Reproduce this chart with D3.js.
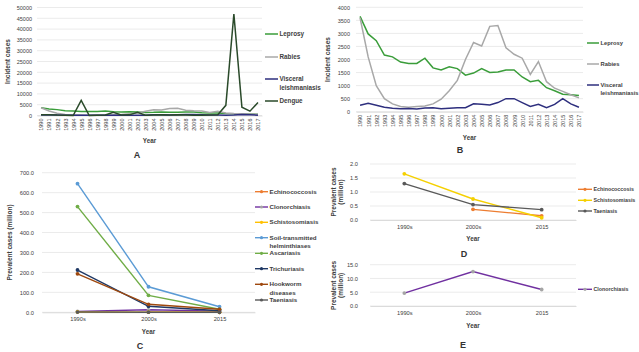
<!DOCTYPE html>
<html>
<head>
<meta charset="utf-8">
<script src="https://cdn.jsdelivr.net/npm/d3@7"></script>
<style>
  body { margin: 0; background: #fff; }
  svg { display: block; font-family: "Liberation Sans", Arial, sans-serif; }
  .tick text { fill: #404040; }
</style>
</head>
<body>
<svg id="chart" width="639" height="352"></svg>
<script>
// Data
const years = d3.range(1990, 2018).map(String);
const leprosy = [3650, 2980, 2720, 2170, 2100, 1900, 1850, 1850, 2050, 1680, 1600, 1720, 1650, 1400, 1480, 1650, 1500, 1520, 1600, 1600, 1330, 1150, 1200, 920, 800, 670, 650, 620];
const rabies = [3600, 2100, 1000, 500, 300, 200, 170, 200, 220, 300, 480, 800, 1200, 2000, 2650, 2520, 3270, 3300, 2450, 2200, 2050, 1430, 1920, 1150, 900, 780, 650, 530];
const visceral = [250, 320, 250, 170, 130, 110, 120, 100, 140, 150, 110, 130, 150, 150, 300, 290, 260, 350, 500, 500, 350, 200, 280, 150, 280, 500, 300, 170];
const dengue = [300, 400, 200, 100, 0, 7000, 0, 100, 200, 1500, 200, 300, 1500, 100, 200, 300, 200, 300, 200, 100, 100, 200, 300, 4700, 47000, 3800, 2000, 6000];

const periods = ["1990s", "2000s", "2015"];
const echinococcosis = [null, 0.38, 0.15];
const clonorchiasis = [4.7, 12.5, 6.0];
const schistosomiasis = [1.65, 0.75, 0.08];
const soilHelminth = [645, 128, 28];
const ascariasis = [530, 85, 15];
const trichuriasis = [212, 30, 8];
const hookworm = [193, 40, 15];
const taeniasis = [1.3, 0.55, 0.37];

const svg = d3.select("#chart");
const axisColor = "#404040";

// one panel: gridlines, axes, lines, legend
function panel(cfg) {
  const g = svg.append("g");
  const x = d3.scalePoint(cfg.cats, cfg.xRange).padding(0.5);
  const y = d3.scaleLinear(cfg.yDomain, cfg.yRange);

  // gridlines
  g.append("g").selectAll("line")
    .data(cfg.yTicks)
    .join("line")
    .attr("x1", cfg.xRange[0]).attr("x2", cfg.xRange[1])
    .attr("y1", d => y(d)).attr("y2", d => y(d))
    .attr("stroke", "#e3e3e3").attr("stroke-width", 0.7);

  // y axis labels
  g.append("g")
    .attr("transform", `translate(${cfg.xRange[0]},0)`)
    .call(d3.axisLeft(y).tickValues(cfg.yTicks).tickFormat(cfg.yFormat).tickSize(0).tickPadding(cfg.yPad))
    .call(a => a.select(".domain").remove())
    .call(a => a.selectAll("text").attr("font-size", cfg.fs));

  // x axis
  const xa = g.append("g")
    .attr("transform", `translate(0,${cfg.yRange[0]})`)
    .call(d3.axisBottom(x).tickSize(0).tickPadding(cfg.rotate ? 3 : 5))
    .call(a => a.select(".domain").attr("stroke", "#d0d0d0").attr("stroke-width", 0.7))
    .call(a => a.selectAll("text").attr("font-size", cfg.fs));
  if (cfg.rotate) {
    xa.selectAll("text")
      .attr("transform", "rotate(-90)")
      .attr("text-anchor", "end")
      .attr("dx", 0).attr("dy", "0.35em")
      .attr("x", -3).attr("y", 0);
  }

  // axis titles
  const xMid = (cfg.xRange[0] + cfg.xRange[1]) / 2;
  g.append("text")
    .attr("x", xMid).attr("y", cfg.yearY)
    .attr("text-anchor", "middle").attr("font-size", 6.3).attr("font-weight", "bold")
    .attr("fill", axisColor).text("Year");
  const yMid = (cfg.yRange[0] + cfg.yRange[1]) / 2;
  cfg.yTitle.forEach((t, i) => {
    g.append("text")
      .attr("transform", `translate(${cfg.yTitleX + i * 7},${yMid}) rotate(-90)`)
      .attr("text-anchor", "middle").attr("font-size", 6.5).attr("font-weight", "bold")
      .attr("fill", axisColor).text(t);
  });

  // lines
  const line = d3.line()
    .defined(d => d.v != null)
    .x(d => x(d.c)).y(d => y(d.v));
  cfg.series.forEach(s => {
    const pts = cfg.cats.map((c, i) => ({c, v: s.values[i]}));
    g.append("path")
      .datum(pts)
      .attr("fill", "none")
      .attr("stroke", s.color)
      .attr("stroke-width", cfg.lw)
      .attr("d", line);
    if (cfg.markers) {
      g.append("g").selectAll("circle")
        .data(pts.filter(d => d.v != null))
        .join("circle")
        .attr("cx", d => x(d.c)).attr("cy", d => y(d.v))
        .attr("r", 1.9)
        .attr("fill", s.marker || s.color);
    }
  });

  // legend
  cfg.series.forEach((s, i) => {
    const ly = cfg.legendY[i];
    g.append("line")
      .attr("x1", cfg.legendX).attr("x2", cfg.legendX + cfg.legendLen)
      .attr("y1", ly).attr("y2", ly)
      .attr("stroke", s.color).attr("stroke-width", cfg.lw);
    if (cfg.markers) {
      g.append("circle")
        .attr("cx", cfg.legendX + cfg.legendLen / 2).attr("cy", ly).attr("r", 1.6)
        .attr("fill", s.marker || s.color);
    }
    s.label.forEach((t, j) => {
      g.append("text")
        .attr("x", cfg.legendX + cfg.legendLen + 1.5).attr("y", ly + j * 8.3)
        .attr("dy", "0.35em").attr("font-size", cfg.lfs).attr("font-weight", "bold")
        .attr("fill", axisColor).text(t);
    });
  });

  // panel letter
  svg.append("text")
    .attr("x", cfg.letter[0]).attr("y", cfg.letter[1])
    .attr("text-anchor", "middle").attr("font-size", 9).attr("font-weight", "bold")
    .attr("fill", "#333").text(cfg.letter[2]);
}

const fmt0 = d3.format("d");
const fmt1 = d3.format(".1f");

panel({
  cats: years, xRange: [37, 262], yDomain: [0, 50000], yRange: [115.5, 7.5],
  yTicks: d3.range(0, 50001, 5000), yFormat: fmt0, yPad: 5, fs: 5.5, rotate: true,
  yearY: 143, yTitle: ["Incident cases"], yTitleX: 10, lw: 1.5, markers: false,
  series: [
    {label: ["Leprosy"], values: leprosy, color: "#3a9d3a"},
    {label: ["Rabies"], values: rabies, color: "#a8a8a8"},
    {label: ["Visceral", "leishmaniasis"], values: visceral, color: "#2e2f7e"},
    {label: ["Dengue"], values: dengue, color: "#2a4a2a"}
  ],
  legendX: 265, legendLen: 13, legendY: [34, 57, 79, 101], lfs: 6.3,
  letter: [137, 158, "A"]
});

panel({
  cats: years, xRange: [356, 583], yDomain: [0, 4000], yRange: [111.7, 7.3],
  yTicks: d3.range(0, 4001, 500), yFormat: fmt0, yPad: 6, fs: 5.5, rotate: true,
  yearY: 140, yTitle: ["Incident cases"], yTitleX: 330, lw: 1.5, markers: false,
  series: [
    {label: ["Leprosy"], values: leprosy, color: "#3a9d3a"},
    {label: ["Rabies"], values: rabies, color: "#a8a8a8"},
    {label: ["Visceral", "leishmaniasis"], values: visceral, color: "#2e2f7e"}
  ],
  legendX: 587, legendLen: 12, legendY: [43, 64, 85], lfs: 5.8,
  letter: [460, 153, "B"]
});

panel({
  cats: periods, xRange: [42, 255], yDomain: [0, 700], yRange: [312.3, 172.7],
  yTicks: d3.range(0, 701, 100), yFormat: fmt1, yPad: 8, fs: 5.7, rotate: false,
  yearY: 334, yTitle: ["Prevalent cases (million)"], yTitleX: 12, lw: 1.4, markers: true,
  series: [
    {label: ["Echinococcosis"], values: echinococcosis, color: "#ed7d31"},
    {label: ["Clonorchiasis"], values: clonorchiasis, color: "#7030a0", marker: "#a5a5a5"},
    {label: ["Schistosomiasis"], values: schistosomiasis, color: "#ffc000"},
    {label: ["Soil-transmitted", "helminthiases"], values: soilHelminth, color: "#5b9bd5"},
    {label: ["Ascariasis"], values: ascariasis, color: "#70ad47"},
    {label: ["Trichuriasis"], values: trichuriasis, color: "#1f3864"},
    {label: ["Hookworm", "diseases"], values: hookworm, color: "#9e480e"},
    {label: ["Taeniasis"], values: taeniasis, color: "#595959"}
  ],
  legendX: 255, legendLen: 13, legendY: [191.7, 207, 222.3, 237.7, 253.3, 268.7, 284.3, 300], lfs: 6.2,
  letter: [140, 349, "C"]
});

panel({
  cats: periods, xRange: [370, 576], yDomain: [0, 2], yRange: [220, 164],
  yTicks: d3.range(0, 2.01, 0.5), yFormat: fmt1, yPad: 12, fs: 5.7, rotate: false,
  yearY: 241, yTitle: ["Prevalent cases", "(million)"], yTitleX: 336, lw: 1.4, markers: true,
  series: [
    {label: ["Echinococcosis"], values: echinococcosis, color: "#ed7d31"},
    {label: ["Schistosomiasis"], values: schistosomiasis, color: "#f5d000"},
    {label: ["Taeniasis"], values: taeniasis, color: "#595959"}
  ],
  legendX: 578, legendLen: 14, legendY: [189.3, 200.3, 211], lfs: 5.3,
  letter: [464, 257, "D"]
});

panel({
  cats: periods, xRange: [370, 576], yDomain: [0, 15], yRange: [306, 264.7],
  yTicks: d3.range(0, 15.01, 5), yFormat: fmt1, yPad: 12, fs: 5.7, rotate: false,
  yearY: 328, yTitle: ["Prevalent cases", "(million)"], yTitleX: 336, lw: 1.4, markers: true,
  series: [
    {label: ["Clonorchiasis"], values: clonorchiasis, color: "#7030a0", marker: "#a5a5a5"}
  ],
  legendX: 578, legendLen: 14, legendY: [289.3], lfs: 5.3,
  letter: [463, 348, "E"]
});
</script>
</body>
</html>
